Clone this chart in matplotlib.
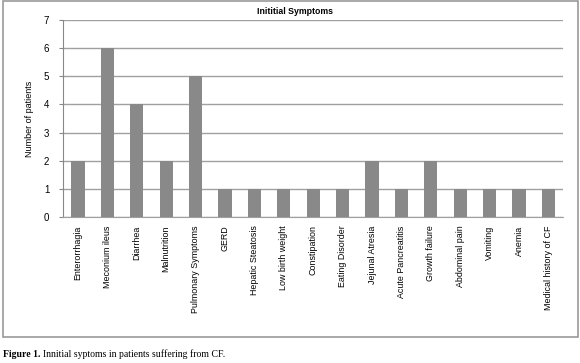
import matplotlib.pyplot as plt
from matplotlib.patches import Rectangle

# Dados do gráfico
symptoms = ["Enterorrhagia", "Meconium ileus", "Diarrhea", "Malnutrition",
            "Pulmonary Symptoms", "GERD", "Hepatic Steatosis", "Low birth weight",
            "Constipation", "Eating Disorder", "Jejunal Atresia", "Acute Pancreatitis",
            "Growth failure", "Abdominal pain", "Vomiting", "Anemia",
            "Medical history of CF"]
patients = [2, 6, 4, 2, 5, 1, 1, 1, 1, 1, 2, 1, 2, 1, 1, 1, 1]
y_ticks = [0, 1, 2, 3, 4, 5, 6, 7]

plt.rcParams['font.family'] = ['Liberation Sans', 'DejaVu Sans']

fig = plt.figure(figsize=(5.8, 3.63), dpi=100)
ax = fig.add_axes([0.109, 0.402, 0.862, 0.543])

x = list(range(len(symptoms)))
ax.bar(x, patients, width=0.45, color='#898989', zorder=3)

ax.set_ylim(0, 7)
ax.set_xlim(-0.5, len(symptoms) - 0.5)
ax.set_yticks(y_ticks)
ax.tick_params(axis='y', labelsize=7, length=3, color='#888888', pad=7)
ax.set_xticks(x)
ax.set_xticklabels(symptoms, rotation=90, fontsize=6.4)
ax.tick_params(axis='x', length=0, pad=6)
ax.grid(axis='y', color='#a0a0a0', linewidth=1, zorder=0)

for side in ['top', 'right']:
    ax.spines[side].set_visible(False)
ax.spines['left'].set_color('#888888')
ax.spines['bottom'].set_color('#a0a0a0')

ax.set_ylabel('Number of patients', fontsize=6.5, labelpad=7)

# Título centralizado na figura
fig.text(0.509, 0.967, 'Inititial Symptoms', fontsize=6.3, fontweight='bold',
         ha='center', va='center')

# Moldura da figura
fig.patches.append(Rectangle((0.006, 0.072), 0.99, 0.925, transform=fig.transFigure,
                             fill=False, edgecolor='#999999', linewidth=1.2))

fig.text(0.006, 0.016, 'Figure 1.', fontsize=7, fontweight='bold',
         family='Liberation Serif')
fig.text(0.074, 0.016, 'Innitial syptoms in patients suffering from CF.',
         fontsize=7, family='Liberation Serif')

plt.savefig('out.png', dpi=100)
